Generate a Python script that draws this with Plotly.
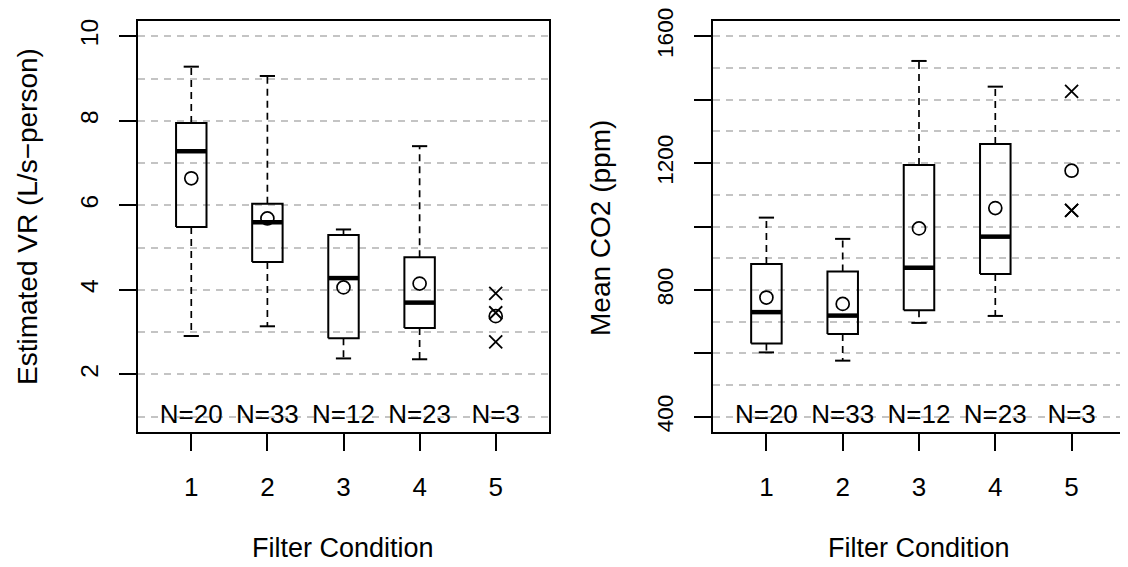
import plotly.graph_objects as go

# ---------------- data ----------------
conditions = [1, 2, 3, 4, 5]
n_labels = ["N=20", "N=33", "N=12", "N=23", "N=3"]

# Estimated VR (L/s-person); conditions 1-4 as boxes, condition 5 as points
vr_q1 = [5.49, 4.66, 2.86, 3.10]
vr_median = [7.28, 5.60, 4.28, 3.70]
vr_q3 = [7.95, 6.04, 5.30, 4.77]
vr_low = [2.91, 3.14, 2.38, 2.36]
vr_high = [9.28, 9.06, 5.43, 7.40]
vr_mean = [6.64, 5.69, 4.06, 4.15, 3.38]
vr_points5 = [3.92, 3.46, 2.77]

# Mean CO2 (ppm)
co2_q1 = [631, 661, 736, 850]
co2_median = [730, 719, 870, 968]
co2_q3 = [882, 858, 1194, 1260]
co2_low = [603, 577, 696, 718]
co2_high = [1028, 961, 1522, 1441]
co2_mean = [776, 756, 994, 1058, 1176]
co2_points5 = [1426, 1051, 1051]

# ---------------- style ----------------
FONT = "Liberation Sans, Arial, Helvetica, sans-serif"
BOX_HALF = 0.2
CAP_HALF = 0.1
SCREEN_W, SCREEN_H = 1128, 567
PAGE_MARGIN = 8  # default body margin of the html page
W, H = SCREEN_W - PAGE_MARGIN, SCREEN_H - PAGE_MARGIN


def px_x(p):
    return (p - PAGE_MARGIN) / W


def px_y(p):
    return 1 - (p - PAGE_MARGIN) / H


fig = go.Figure()


def add_panel(xa, ya, q1, med, q3, lo, hi, mean, pts, nlab_y):
    bx, by, mx, my, wx, wy, cx, cy = [], [], [], [], [], [], [], []
    for i, c in enumerate(conditions[: len(q1)]):
        bx += [c - BOX_HALF, c + BOX_HALF, c + BOX_HALF, c - BOX_HALF, c - BOX_HALF, None]
        by += [q1[i], q1[i], q3[i], q3[i], q1[i], None]
        mx += [c - BOX_HALF, c + BOX_HALF, None]
        my += [med[i], med[i], None]
        wx += [c, c, None, c, c, None]
        wy += [q3[i], hi[i], None, q1[i], lo[i], None]
        cx += [c - CAP_HALF, c + CAP_HALF, None, c - CAP_HALF, c + CAP_HALF, None]
        cy += [hi[i], hi[i], None, lo[i], lo[i], None]
    common = dict(xaxis=xa, yaxis=ya, showlegend=False, hoverinfo="skip")
    fig.add_trace(go.Scatter(x=wx, y=wy, mode="lines",
                             line=dict(color="black", width=1.7, dash="7px,5px"), **common))
    fig.add_trace(go.Scatter(x=cx, y=cy, mode="lines",
                             line=dict(color="black", width=2), **common))
    fig.add_trace(go.Scatter(x=bx, y=by, mode="lines",
                             line=dict(color="black", width=2), **common))
    fig.add_trace(go.Scatter(x=mx, y=my, mode="lines",
                             line=dict(color="black", width=4.5), **common))
    fig.add_trace(go.Scatter(x=conditions, y=mean, mode="markers",
                             marker=dict(symbol="circle-open", size=13,
                                         line=dict(color="black", width=1.7), color="black"),
                             **common))
    fig.add_trace(go.Scatter(x=[conditions[4]] * len(pts), y=pts, mode="markers",
                             marker=dict(symbol="x-thin-open", size=13,
                                         line=dict(color="black", width=1.8), color="black"),
                             **common))
    fig.add_trace(go.Scatter(x=conditions, y=[nlab_y] * len(conditions), mode="text",
                             text=n_labels, textposition="middle center",
                             textfont=dict(family=FONT, size=26, color="black"), **common))


add_panel("x", "y", vr_q1, vr_median, vr_q3, vr_low, vr_high, vr_mean, vr_points5, 1)
add_panel("x2", "y2", co2_q1, co2_median, co2_q3, co2_low, co2_high, co2_mean, co2_points5, 400)

ydom = [px_y(432), px_y(21)]
axis_common = dict(
    showline=True, mirror=True, linecolor="black", linewidth=1.6,
    ticks="outside", ticklen=17, tickwidth=1.6, tickcolor="black",
    zeroline=False, automargin=False, ticklabeloverflow="allow",
)
xfont = dict(family=FONT, size=26, color="black")
yfont_left = dict(family=FONT, size=24.5, color="black")
yfont_right = dict(family=FONT, size=22.5, color="black")
grid = dict(gridcolor="#c4c4c4", gridwidth=1.5, griddash="7px,6px")

fig.update_layout(
    width=W, height=H,
    margin=dict(l=0, r=0, t=0, b=0, autoexpand=False),
    paper_bgcolor="white", plot_bgcolor="white",
    font=dict(family=FONT, color="black"),
    xaxis=dict(domain=[px_x(138), px_x(549)], range=[0.3, 5.7], tickvals=conditions,
               showgrid=False, anchor="y", ticklabelstandoff=14, tickfont=xfont,
               **axis_common),
    yaxis=dict(domain=ydom, range=[0.64, 10.36], tickvals=[2, 4, 6, 8, 10],
               tickangle=-90, showgrid=True, anchor="x", ticklabelstandoff=11,
               tickfont=yfont_left,
               minor=dict(dtick=1, tick0=0, showgrid=True, ticks="", **grid),
               **grid, **axis_common),
    xaxis2=dict(domain=[px_x(713), px_x(1125)], range=[0.3, 5.7], tickvals=conditions,
                showgrid=False, anchor="y2", ticklabelstandoff=14, tickfont=xfont,
                **axis_common),
    yaxis2=dict(domain=ydom, range=[352, 1648],
                tickvals=[400, 600, 800, 1000, 1200, 1400, 1600],
                ticktext=["400", "", "800", "", "1200", "", "1600"],
                tickangle=-90, showgrid=True, anchor="x2", ticklabelstandoff=12,
                tickfont=yfont_right,
                minor=dict(dtick=100, tick0=0, showgrid=True, ticks="", **grid),
                **grid, **axis_common),
)

titles = [
    dict(text="Estimated VR (L/s\u2212person)", x=px_x(27), y=px_y(217), textangle=-90, size=28),
    dict(text="Mean CO2 (ppm)", x=px_x(600), y=px_y(228), textangle=-90, size=28),
    dict(text="Filter Condition", x=px_x(343), y=px_y(548), textangle=0, size=27),
    dict(text="Filter Condition", x=px_x(919), y=px_y(548), textangle=0, size=27),
]
for t in titles:
    size = t.pop("size")
    fig.add_annotation(xref="paper", yref="paper", showarrow=False,
                       xanchor="center", yanchor="middle",
                       font=dict(family=FONT, size=size, color="black"), **t)

fig.write_html("out.html")
